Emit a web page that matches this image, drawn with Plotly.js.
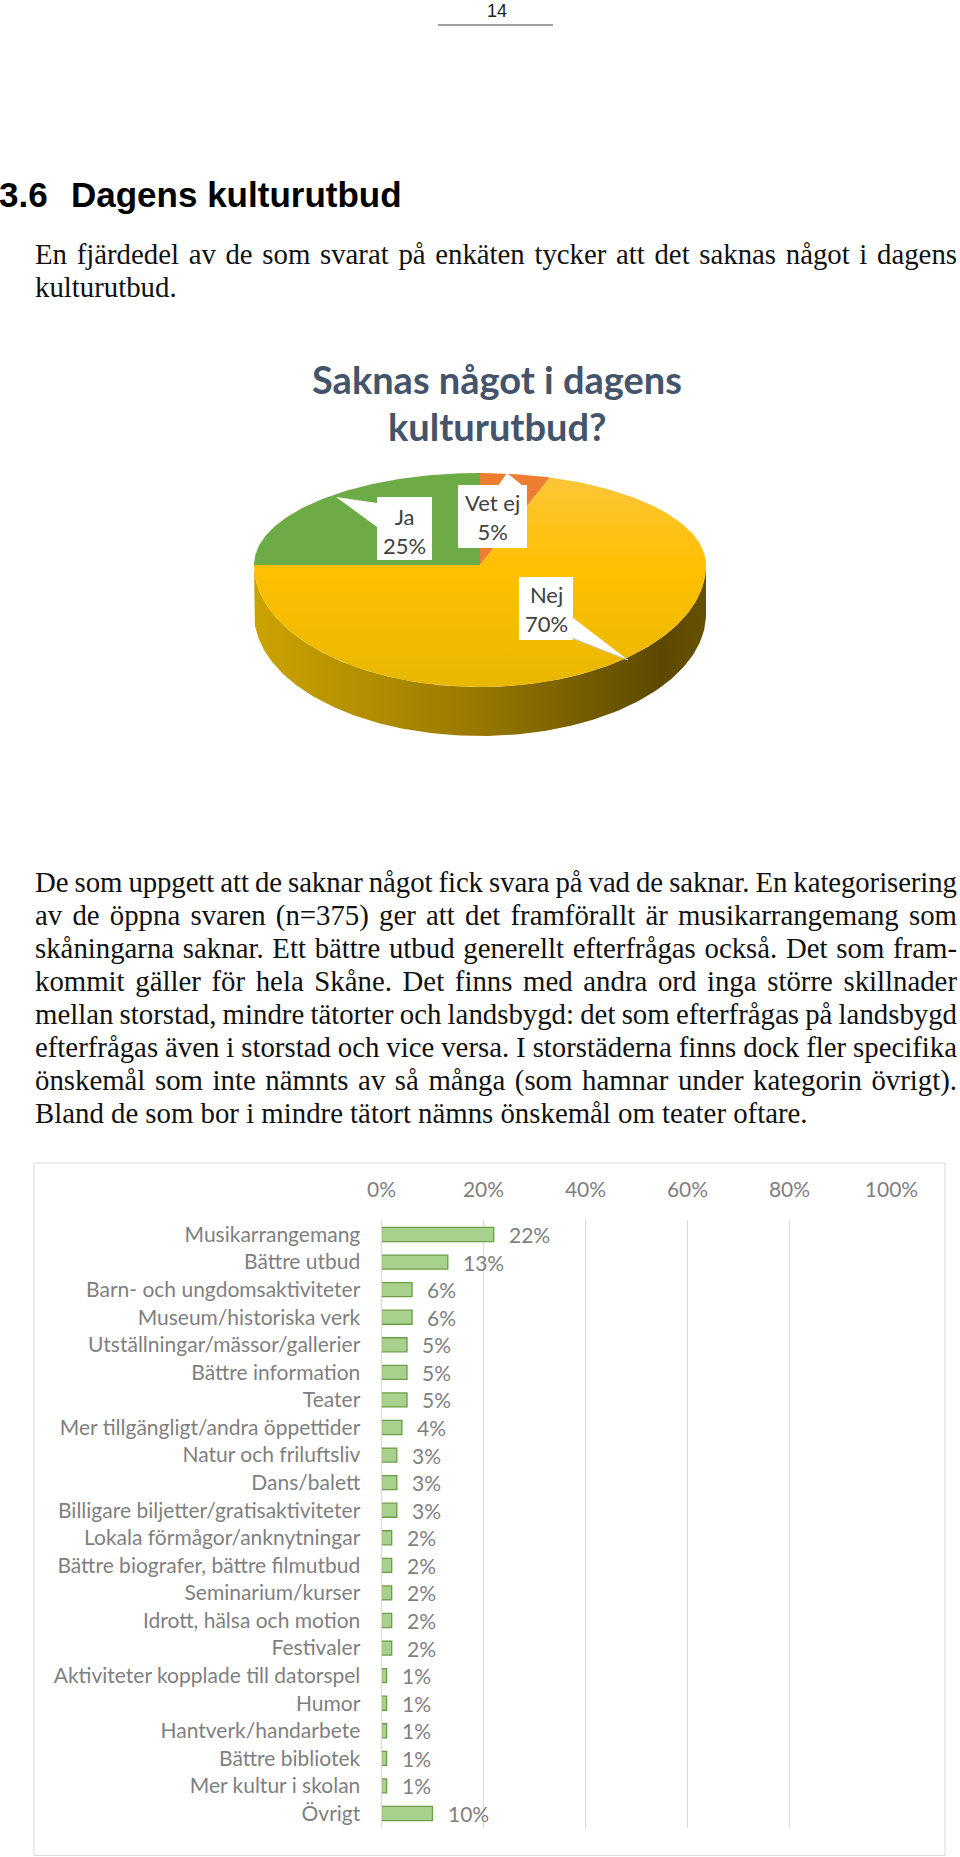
<!DOCTYPE html>
<html>
<head>
<meta charset="utf-8">
<script src="https://cdn.plot.ly/plotly-3.0.1.min.js"></script>
<style>
  html, body { margin:0; padding:0; background:#ffffff; }
  #page { position:relative; width:960px; height:1857px; overflow:hidden; background:#fff; }
  #plot { position:absolute; left:0; top:0; width:960px; height:1857px; }
  .ln { position:absolute; white-space:pre; font-family:'Liberation Serif','Times New Roman',serif; color:#111; }
</style>
</head>
<body>
<div id="page">
  <div id="plot"></div>
</div>
<script>
// ---------------- DATA ----------------
const pieTitle = ['Saknas något i dagens', 'kulturutbud?'];
const pieLabels = ['Ja', 'Vet ej', 'Nej'];
const pieValues = [25, 5, 70];

const categories = [
  'Musikarrangemang', 'Bättre utbud', 'Barn- och ungdomsaktiviteter', 'Museum/historiska verk',
  'Utställningar/mässor/gallerier', 'Bättre information', 'Teater', 'Mer tillgängligt/andra öppettider',
  'Natur och friluftsliv', 'Dans/balett', 'Billigare biljetter/gratisaktiviteter',
  'Lokala förmågor/anknytningar', 'Bättre biografer, bättre filmutbud', 'Seminarium/kurser',
  'Idrott, hälsa och motion', 'Festivaler', 'Aktiviteter kopplade till datorspel', 'Humor',
  'Hantverk/handarbete', 'Bättre bibliotek', 'Mer kultur i skolan', 'Övrigt'
];
const shares = [22, 13, 6, 6, 5, 5, 5, 4, 3, 3, 3, 2, 2, 2, 2, 2, 1, 1, 1, 1, 1, 10];
const xTickVals = [0, 20, 40, 60, 80, 100];

const pageNumber = '14';
const headingNum = '3.6';
const headingText = 'Dagens kulturutbud';
const para1 = [
  'En fjärdedel av de som svarat på enkäten tycker att det saknas något i dagens',
  'kulturutbud.'
];
const para2 = [
  'De som uppgett att de saknar något fick svara på vad de saknar. En kategorisering',
  'av de öppna svaren (n=375) ger att det framförallt är musikarrangemang som',
  'skåningarna saknar. Ett bättre utbud generellt efterfrågas också. Det som fram-',
  'kommit gäller för hela Skåne. Det finns med andra ord inga större skillnader',
  'mellan storstad, mindre tätorter och landsbygd: det som efterfrågas på landsbygd',
  'efterfrågas även i storstad och vice versa. I storstäderna finns dock fler specifika',
  'önskemål som inte nämnts av så många (som hamnar under kategorin övrigt).',
  'Bland de som bor i mindre tätort nämns önskemål om teater oftare.'
];

// ---------------- STYLE ----------------
const pieColors = ['#6cab45', '#ED7D31', '#FFC000'];
const pieGeom = { cx: 480, cy: 565, a: 226, bBack: 92, bFront: 122, depth: 49, start: 180 };
const labelBoxes = [
  { x0: 377, x1: 432, y0: 497, y1: 560, tx: 404.5, ty: 531, ptr: [[377,503],[336,497],[377,527]] },
  { x0: 458, x1: 527, y0: 485, y1: 548, tx: 492.5, ty: 517, ptr: [[498,486],[507,473],[523,486]] },
  { x0: 519, x1: 573, y0: 577, y1: 640, tx: 546, ty: 609, ptr: [[572,617],[628,660],[572,638]] }
];
const grayTxt = '#7f7f7f';
const chartFont = 'Lato, "Open Sans", sans-serif';

// ---------------- PIE GEOMETRY ----------------
const total = pieValues.reduce((s, v) => s + v, 0);
function pt(phiDeg, dy) {
  const r = phiDeg * Math.PI / 180;
  const s = Math.sin(r);
  const b = s >= 0 ? pieGeom.bBack : pieGeom.bFront;
  return [pieGeom.cx + pieGeom.a * Math.cos(r), pieGeom.cy - b * s + (dy || 0)];
}
const traces = [];
let cum = 0;
const sliceRanges = [];
pieValues.forEach((v, i) => {
  const p0 = pieGeom.start - cum / total * 360;
  const p1 = p0 - v / total * 360;
  sliceRanges.push([p0, p1]);
  cum += v;
});
// side walls (front half: phi in [-180, 0])
sliceRanges.forEach((rg, i) => {
  const hi = Math.min(rg[0], 0), lo = Math.max(rg[1], -180);
  if (hi <= lo) return;
  const xs = [], ys = [];
  for (let p = hi; p >= lo - 1e-9; p -= 1) { const q = pt(p, 0); xs.push(q[0]); ys.push(q[1]); }
  for (let p = lo; p <= hi + 1e-9; p += 1) { const q = pt(p, pieGeom.depth); xs.push(q[0]); ys.push(q[1]); }
  xs.push(xs[0]); ys.push(ys[0]);
  traces.push({
    type: 'scatter', mode: 'lines', x: xs, y: ys, xaxis: 'x', yaxis: 'y',
    fill: 'toself', line: { width: 0, color: 'rgba(0,0,0,0)' },
    fillgradient: {
      type: 'horizontal', start: pieGeom.cx - pieGeom.a, stop: pieGeom.cx + pieGeom.a,
      colorscale: [[0, '#cba300'], [0.25, '#b28e00'], [0.5, '#987800'], [0.75, '#725a00'], [0.9, '#5d4800'], [1, '#665000']]
    },
    hoverinfo: 'skip', showlegend: false
  });
});
// top faces
sliceRanges.forEach((rg, i) => {
  const xs = [pieGeom.cx], ys = [pieGeom.cy];
  const n = Math.max(2, Math.ceil(Math.abs(rg[0] - rg[1])));
  for (let k = 0; k <= n; k++) {
    const p = rg[0] + (rg[1] - rg[0]) * k / n;
    const q = pt(p, 0); xs.push(q[0]); ys.push(q[1]);
  }
  xs.push(pieGeom.cx); ys.push(pieGeom.cy);
  const tr = {
    type: 'scatter', mode: 'lines', x: xs, y: ys, xaxis: 'x', yaxis: 'y',
    fill: 'toself', fillcolor: pieColors[i], line: { width: 0, color: 'rgba(0,0,0,0)' },
    name: pieLabels[i], hoverinfo: 'skip', showlegend: false
  };
  if (i === 2) {
    delete tr.fillcolor;
    tr.fillgradient = {
      type: 'vertical', start: pieGeom.cy - pieGeom.bBack, stop: pieGeom.cy + pieGeom.bFront,
      colorscale: [[0, '#fcc63c'], [0.45, '#ffc000'], [1, '#e8b700']]
    };
  }
  traces.push(tr);
});

// ---------------- BAR ----------------
traces.push({
  type: 'bar', orientation: 'h', x: shares, y: categories, xaxis: 'x2', yaxis: 'y2',
  marker: { color: '#a9d18e', line: { color: '#6a9f46', width: 1.3 } },
  hoverinfo: 'skip', showlegend: false
});

// ---------------- SHAPES & ANNOTATIONS ----------------
const shapes = [];
const annotations = [];
labelBoxes.forEach((b, i) => {
  shapes.push({ type: 'path', xref: 'x', yref: 'y', layer: 'above',
    path: 'M' + b.ptr.map(p => p[0] + ',' + p[1]).join(' L') + ' Z',
    fillcolor: '#ffffff', line: { width: 0 } });
  shapes.push({ type: 'rect', xref: 'x', yref: 'y', layer: 'above', x0: b.x0, x1: b.x1, y0: b.y0, y1: b.y1,
    fillcolor: '#ffffff', line: { width: 0 } });
  annotations.push({ xref: 'x', yref: 'y', x: b.tx, y: b.ty, showarrow: false, xanchor: 'center', yanchor: 'middle',
    text: pieLabels[i] + '<br>' + pieValues[i] + '%', align: 'center',
    font: { family: chartFont, size: 22, color: '#404040' } });
});
// subtle shade on Nej pointer lower edge
shapes.push({ type: 'line', xref: 'x', yref: 'y', layer: 'above', x0: 572, y0: 638, x1: 628, y1: 660,
  line: { color: '#c8c8c8', width: 1.2 } });

pieTitle.forEach((t, k) => {
  annotations.push({ xref: 'x', yref: 'y', x: 497, y: 379 + k * 47, showarrow: false, xanchor: 'center', yanchor: 'middle',
    text: '<b>' + t + '</b>', font: { family: chartFont, size: 38, color: '#44546A' } });
});

categories.forEach((c, i) => {
  annotations.push({ xref: 'x2', yref: 'y2', x: shares[i], y: c, showarrow: false, xanchor: 'left', yanchor: 'middle',
    xshift: 13, text: shares[i] + '%', font: { family: chartFont, size: 21, color: grayTxt } });
});

// chart border
shapes.push({ type: 'rect', xref: 'x', yref: 'y', layer: 'below', x0: 34, x1: 945, y0: 1163, y1: 1855.5,
  fillcolor: 'rgba(0,0,0,0)', line: { color: '#d9d9d9', width: 1 } });
// page number rule
shapes.push({ type: 'line', xref: 'x', yref: 'y', x0: 438, x1: 553, y0: 25, y1: 25, line: { color: '#444', width: 1 } });

const layout = {
  width: 960, height: 1857,
  margin: { l: 0, r: 0, t: 0, b: 0 },
  paper_bgcolor: '#ffffff', plot_bgcolor: 'rgba(0,0,0,0)',
  showlegend: false, hovermode: false,
  xaxis: { domain: [0, 1], range: [0, 960], visible: false, fixedrange: true },
  yaxis: { domain: [0, 1], range: [1857, 0], visible: false, fixedrange: true },
  xaxis2: {
    domain: [381.5 / 960, 891.5 / 960], range: [0, 100], anchor: 'y2', side: 'top',
    tickvals: xTickVals, ticktext: xTickVals.map(v => v + '%'),
    showgrid: true, gridcolor: '#d9d9d9', gridwidth: 1, zeroline: false, showline: false,
    ticks: 'outside', ticklen: 14, tickcolor: 'rgba(0,0,0,0)',
    tickfont: { family: chartFont, size: 21, color: grayTxt }
  },
  yaxis2: {
    domain: [1 - 1828 / 1857, 1 - 1220 / 1857], anchor: 'x2', type: 'category', autorange: 'reversed',
    showgrid: false, zeroline: false, showline: true, linecolor: '#d9d9d9', linewidth: 1,
    ticks: 'outside', ticklen: 16, tickcolor: 'rgba(0,0,0,0)',
    tickfont: { family: chartFont, size: 21, color: grayTxt }
  },
  bargap: 0.49,
  shapes: shapes,
  annotations: annotations
};

Plotly.newPlot('plot', traces, layout, { staticPlot: true, displayModeBar: false });

// ---------------- DOCUMENT TEXT ----------------
const page = document.getElementById('page');
const bodySize = 28.8;
function addText(text, left, top, css) {
  const d = document.createElement('div');
  d.className = 'ln';
  d.textContent = text;
  d.style.left = left + 'px';
  d.style.top = top + 'px';
  if (css) Object.assign(d.style, css);
  page.appendChild(d);
  return d;
}
function addLine(text, baseline, justify) {
  const L = 35, R = 957;
  const d = addText(text, L, baseline - 0.8375 * bodySize,
    { fontSize: bodySize + 'px', lineHeight: bodySize + 'px' });
  if (justify) {
    const w = d.getBoundingClientRect().width;
    const spaces = (text.match(/ /g) || []).length;
    const extra = (R - L) - w;
    if (spaces > 0) {
      if (extra / spaces >= -1) {
        d.style.wordSpacing = (extra / spaces) + 'px';
      } else {
        d.style.wordSpacing = '-1px';
        const rem = extra + spaces;
        d.style.letterSpacing = (rem / (text.length - 1)) + 'px';
      }
    }
  }
}
addText(pageNumber, 497, 2, { fontFamily: "'Liberation Sans', Arial, sans-serif", fontSize: '18px', lineHeight: '18px', transform: 'translateX(-50%)', color: '#222' });
const hs = { fontFamily: "'Liberation Sans', Arial, sans-serif", fontWeight: 'bold', fontSize: '35px', lineHeight: '35px', color: '#000' };
addText(headingNum, -1, 209 - 0.905 * 35, hs);
addText(headingText, 71, 209 - 0.905 * 35, hs);
para1.forEach((t, k) => addLine(t, 264 + k * 33, k < para1.length - 1));
para2.forEach((t, k) => addLine(t, 892 + k * 33, k < para2.length - 1));
</script>
</body>
</html>
